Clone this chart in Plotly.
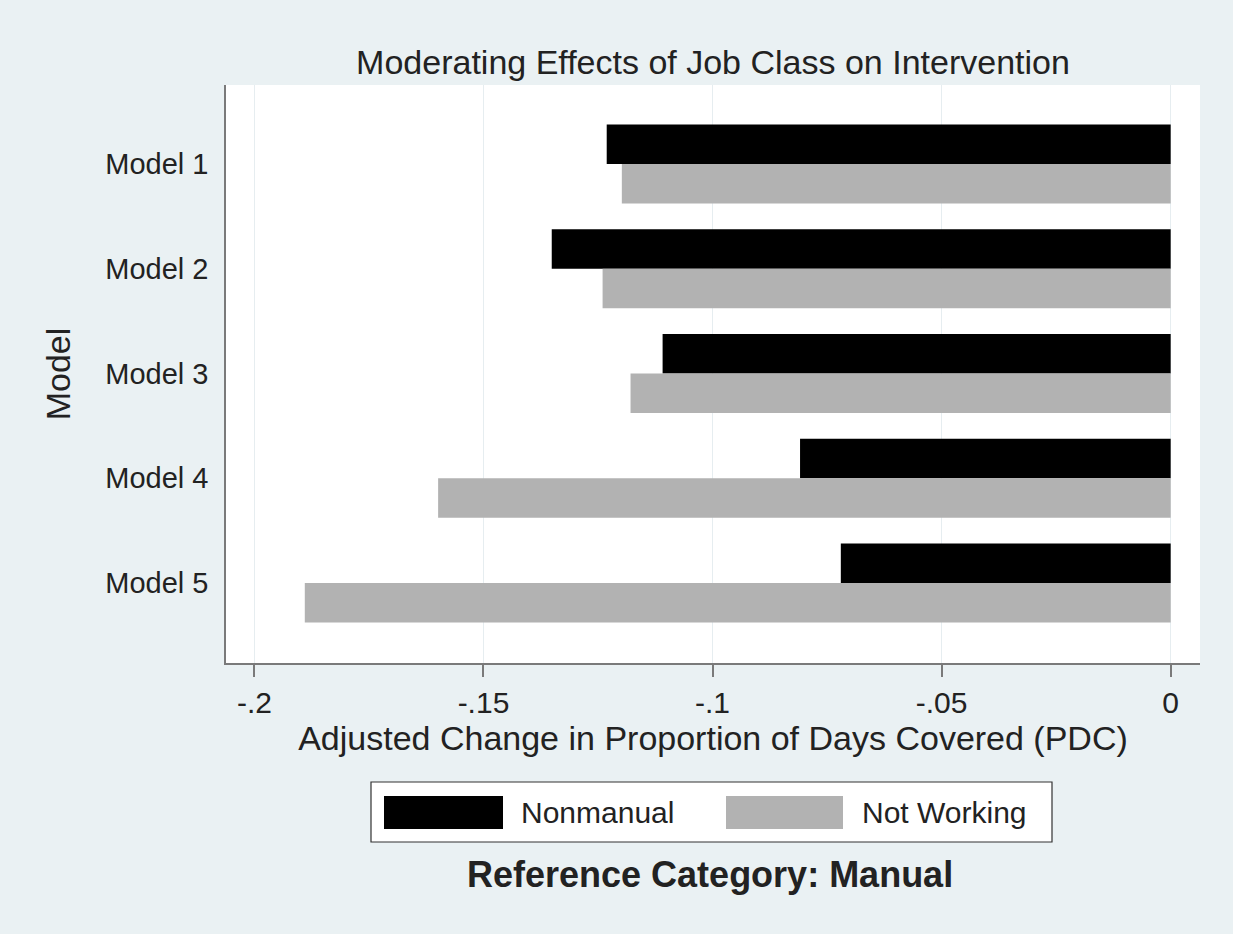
import plotly.graph_objects as go

# ---- data ----
models = ["Model 1", "Model 2", "Model 3", "Model 4", "Model 5"]
nonmanual = [-0.1231, -0.1351, -0.1109, -0.0809, -0.0720]
not_working = [-0.1198, -0.1240, -0.1179, -0.1599, -0.1890]
series_names = ["Nonmanual", "Not Working"]
x_tickvals = [-0.2, -0.15, -0.1, -0.05, 0]
x_ticktext = ["-.2", "-.15", "-.1", "-.05", "0"]

title_text = "Moderating Effects of Job Class on Intervention"
x_title = "Adjusted Change in Proportion of Days Covered (PDC)"
y_title = "Model"
note_text = "Reference Category: Manual"

# ---- styling / layout ----
W_FIG, H_FIG = 1233, 934
L, R, T, B = 226, 1200, 85, 663
PW, PH = R - L, B - T
BG = "#EAF1F3"
TXT = "#222222"
FONT = "Arial, Liberation Sans, Helvetica, sans-serif"
C_NM = "#000000"
C_NW = "#B2B2B2"


def px_x(px):
    return (px - L) / PW


def px_y(py):
    return (B - py) / PH


fig = go.Figure()
bw = 0.377
fig.add_trace(go.Bar(y=models, x=nonmanual, orientation="h", name=series_names[0],
                     marker=dict(color=C_NM, line=dict(width=0)),
                     width=bw, offset=-bw, showlegend=False))
fig.add_trace(go.Bar(y=models, x=not_working, orientation="h", name=series_names[1],
                     marker=dict(color=C_NW, line=dict(width=0)),
                     width=bw, offset=0, showlegend=False))

fig.update_layout(
    width=W_FIG, height=H_FIG,
    margin=dict(l=L, r=W_FIG - R, t=T, b=H_FIG - B, autoexpand=False),
    paper_bgcolor=BG, plot_bgcolor="#FFFFFF",
    barmode="overlay",
    font=dict(family=FONT, color=TXT, size=30),
    title=dict(text=title_text, x=0.5, xref="paper", xanchor="center",
               y=1 - 62 / H_FIG, yref="container", yanchor="middle",
               font=dict(size=34, color=TXT)),
    xaxis=dict(range=[-0.2062, 0.0064], tickvals=x_tickvals, ticktext=x_ticktext,
               showgrid=True, gridcolor="#E6EDF0", gridwidth=1,
               zeroline=False, showline=True, linecolor="#7A7A7A", linewidth=1.5,
               ticks="outside", ticklen=12, tickcolor="#7A7A7A", tickwidth=1.5,
               tickfont=dict(size=30, color=TXT), ticklabelstandoff=0,
               title=dict(text=x_title, font=dict(size=34, color=TXT), standoff=6),
               automargin=False),
    yaxis=dict(type="category", categoryorder="array", categoryarray=models,
               range=[4.764, -0.754], showgrid=False, zeroline=False,
               showline=True, linecolor="#7A7A7A", linewidth=1.5, ticks="",
               tickfont=dict(size=29, color=TXT), ticklabelstandoff=10,
               title=dict(text=y_title, font=dict(size=34, color=TXT), standoff=24),
               automargin=False),
)

# ---- legend drawn as shapes + text ----
shapes = [
    dict(type="rect", xref="paper", yref="paper",
         x0=px_x(371), x1=px_x(1052), y0=px_y(842), y1=px_y(782),
         fillcolor="#FFFFFF", line=dict(color="#333333", width=1.2), layer="above"),
    dict(type="rect", xref="paper", yref="paper",
         x0=px_x(384), x1=px_x(503), y0=px_y(829), y1=px_y(796),
         fillcolor=C_NM, line=dict(width=0), layer="above"),
    dict(type="rect", xref="paper", yref="paper",
         x0=px_x(726), x1=px_x(843), y0=px_y(829), y1=px_y(796),
         fillcolor=C_NW, line=dict(width=0), layer="above"),
]
annotations = [
    dict(text=series_names[0], xref="paper", yref="paper", x=px_x(519), y=px_y(812),
         xanchor="left", yanchor="middle", showarrow=False, font=dict(size=30, color=TXT)),
    dict(text=series_names[1], xref="paper", yref="paper", x=px_x(860), y=px_y(812),
         xanchor="left", yanchor="middle", showarrow=False, font=dict(size=30, color=TXT)),
    dict(text="<b>" + note_text + "</b>", xref="paper", yref="paper", x=px_x(710), y=px_y(874),
         xanchor="center", yanchor="middle", showarrow=False, font=dict(size=36, color=TXT)),
]
fig.update_layout(shapes=shapes, annotations=annotations)

fig.write_html("out.html", config={"displayModeBar": False},
               post_script="document.body.style.margin='0';document.body.style.padding='0';"
                           "document.body.style.overflow='hidden';")
